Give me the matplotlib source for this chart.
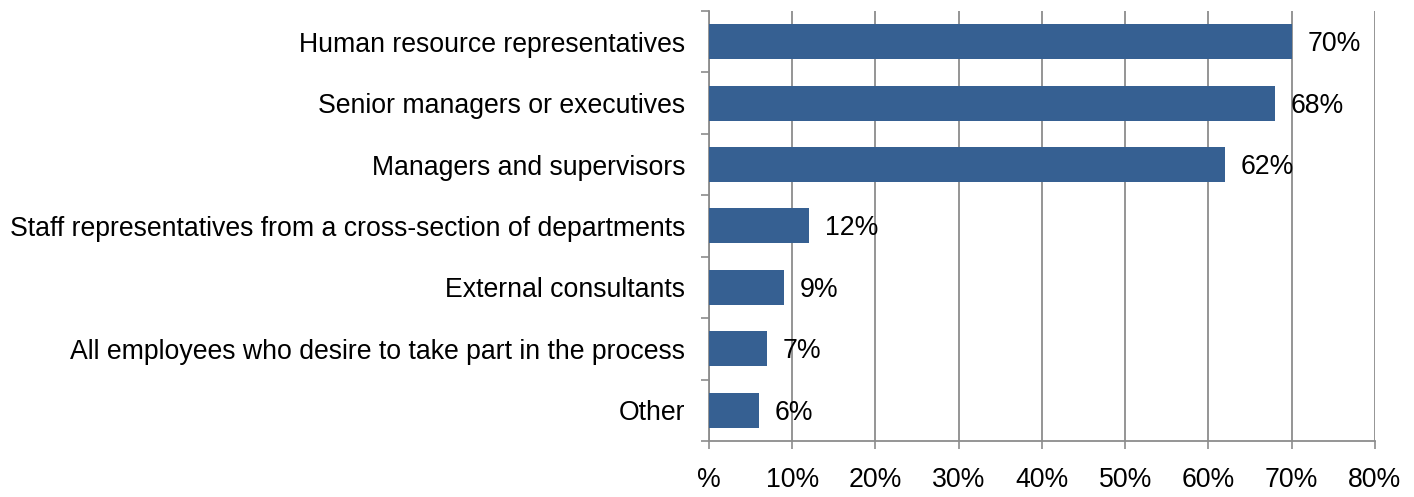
import matplotlib.pyplot as plt
import numpy as np

plt.rcParams['font.family'] = ['Liberation Sans', 'DejaVu Sans']

categories = [
    "Human resource representatives",
    "Senior managers or executives",
    "Managers and supervisors",
    "Staff representatives from a cross-section of departments",
    "External consultants",
    "All employees who desire to take part in the process",
    "Other",
]
values = [70, 68, 62, 12, 9, 7, 6]
xtick_values = [0, 10, 20, 30, 40, 50, 60, 70, 80]
xtick_labels = ["%", "10%", "20%", "30%", "40%", "50%", "60%", "70%", "80%"]

bar_color = "#366092"
grid_color = "#8c8c8c"
fs = 19.2

fig = plt.figure(figsize=(14.14, 4.97), dpi=100)
ax = fig.add_axes([0.5014, 0.1127, 0.4710, 0.8652])

y = np.arange(len(categories))
ax.barh(y, values, height=0.57, color=bar_color, zorder=3)

for yi, v in zip(y, values):
    ax.text(v + 1.9, yi + 0.04, f"{v}%", va="center", ha="left", fontsize=fs, color="black")

ax.set_xlim(0, 80)
ax.set_ylim(len(categories) - 0.5, -0.5)

ax.set_xticks(xtick_values)
ax.set_xticklabels(xtick_labels, fontsize=fs)
ax.set_yticks(y)
ax.set_yticklabels(categories, fontsize=fs)
ax.tick_params(axis="y", length=0, pad=17)
ax.tick_params(axis="x", length=6, width=1.2, color=grid_color, pad=13)

# category separators drawn as minor ticks on the left
ax.set_yticks(np.arange(-0.5, len(categories)), minor=True)
ax.tick_params(axis="y", which="minor", length=6, width=1.2, color=grid_color)

ax.xaxis.grid(True, color=grid_color, linewidth=1.3, zorder=0)
ax.set_axisbelow(True)

for side in ["top", "right"]:
    ax.spines[side].set_visible(False)
for side in ["left", "bottom"]:
    ax.spines[side].set_color(grid_color)
    ax.spines[side].set_linewidth(1.3)

fig.savefig("out.png", dpi=100)
